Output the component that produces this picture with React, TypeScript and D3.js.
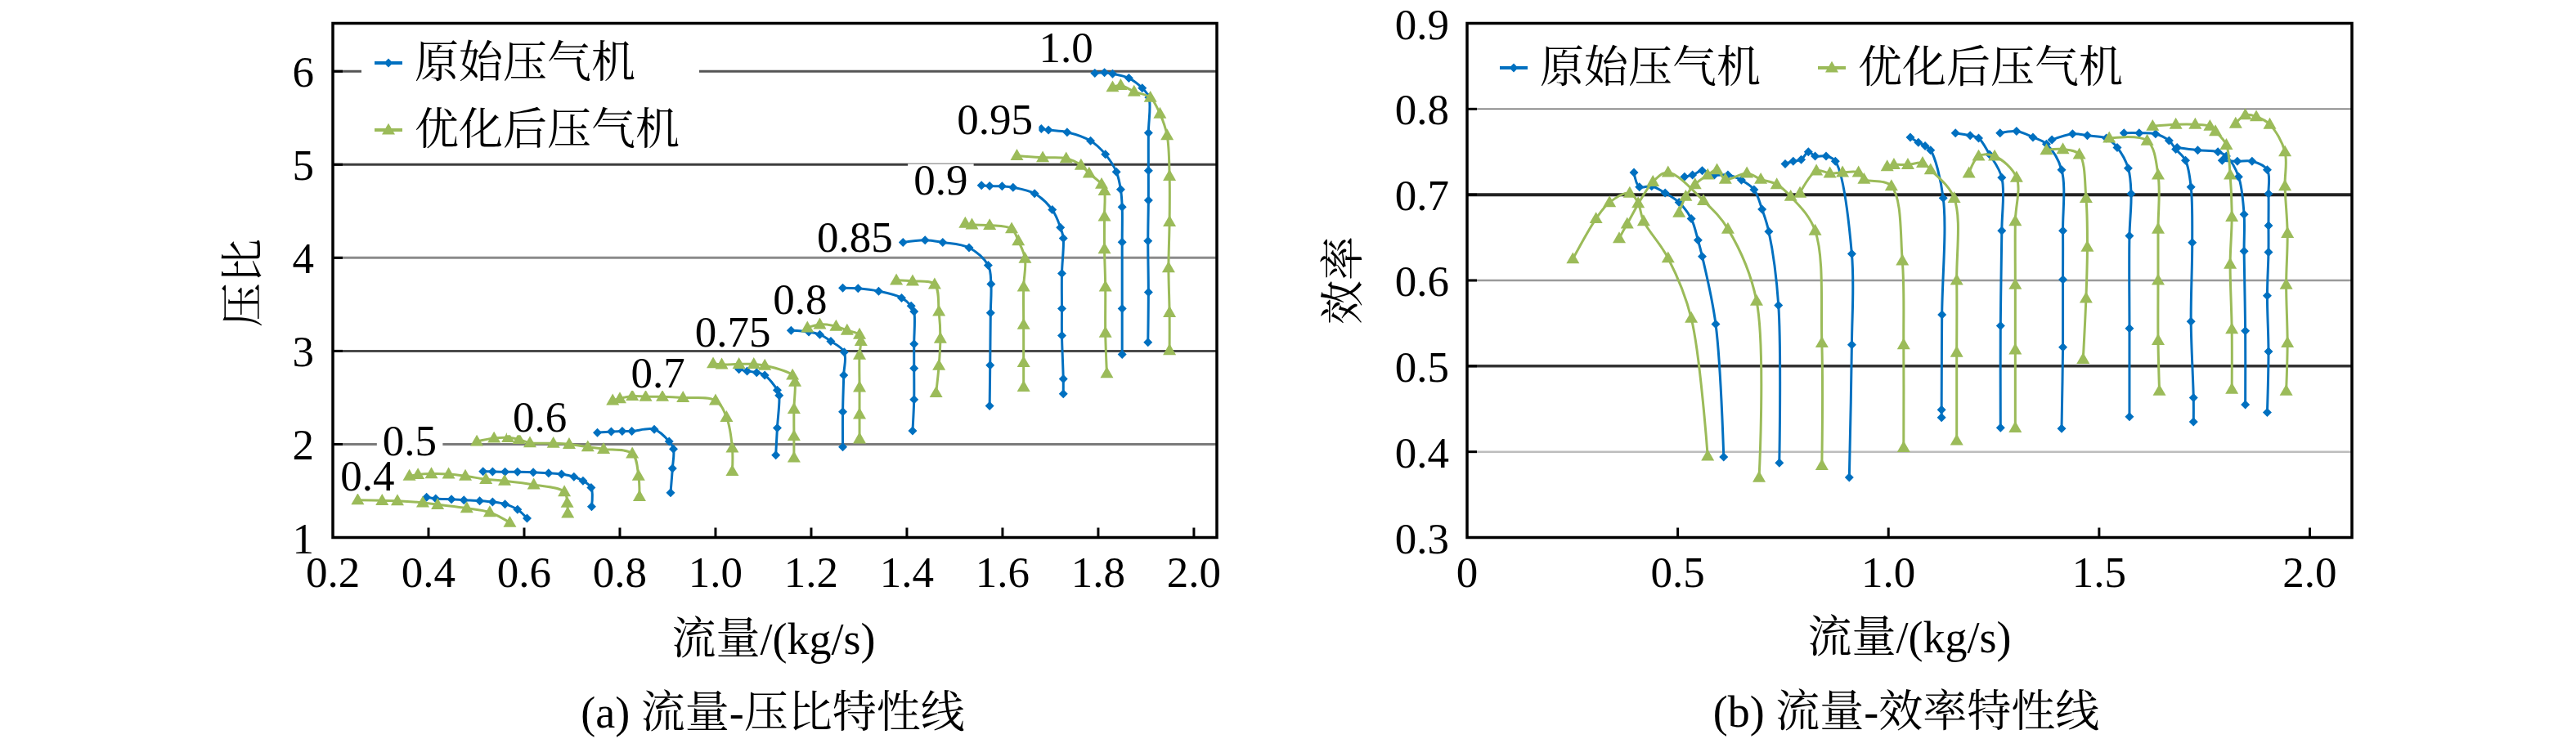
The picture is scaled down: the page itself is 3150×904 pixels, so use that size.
import { useEffect } from "react";
import * as d3 from "d3";

// ---- data ----
// (a) flow vs pressure ratio, original compressor (blue), one array per speed line
const prOrig0 = [[0.396, 1.431], [0.415, 1.416], [0.448, 1.41], [0.474, 1.402], [0.507, 1.393], [0.534, 1.381], [0.56, 1.358], [0.586, 1.3], [0.606, 1.205]];
const prOrig1 = [[0.514, 1.709], [0.534, 1.706], [0.56, 1.703], [0.586, 1.703], [0.619, 1.7], [0.651, 1.691], [0.678, 1.68], [0.704, 1.651], [0.723, 1.607], [0.74, 1.534], [0.741, 1.33]];
const prOrig2 = [[0.753, 2.125], [0.782, 2.135], [0.805, 2.14], [0.825, 2.14], [0.872, 2.16], [0.903, 2.03], [0.912, 1.95], [0.91, 1.74], [0.906, 1.48]];
const prOrig3 = [[1.049, 2.805], [1.066, 2.785], [1.086, 2.77], [1.103, 2.741], [1.129, 2.581], [1.133, 2.523], [1.129, 2.174], [1.126, 1.884]];
const prOrig4 = [[1.158, 3.221], [1.195, 3.206], [1.218, 3.177], [1.241, 3.105], [1.269, 2.988], [1.268, 2.741], [1.266, 2.349], [1.266, 1.971]];
const prOrig5 = [[1.266, 3.677], [1.298, 3.672], [1.341, 3.642], [1.389, 3.57], [1.409, 3.483], [1.415, 3.424], [1.415, 3.076], [1.415, 2.814], [1.415, 2.48], [1.412, 2.145]];
const prOrig6 = [[1.392, 4.166], [1.438, 4.19], [1.475, 4.166], [1.53, 4.108], [1.57, 3.92], [1.576, 3.717], [1.575, 3.41], [1.574, 2.847], [1.573, 2.411]];
const prOrig7 = [[1.556, 4.776], [1.573, 4.77], [1.599, 4.767], [1.622, 4.755], [1.667, 4.689], [1.704, 4.515], [1.721, 4.326], [1.727, 4.21], [1.724, 3.833], [1.724, 3.456], [1.724, 3.166], [1.727, 2.701], [1.727, 2.542]];
const prOrig8 = [[1.681, 5.385], [1.696, 5.37], [1.735, 5.347], [1.784, 5.254], [1.815, 5.109], [1.838, 4.921], [1.847, 4.732], [1.85, 4.544], [1.85, 4.167], [1.85, 3.456], [1.85, 2.963]];
const prOrig9 = [[1.793, 5.98], [1.813, 5.986], [1.83, 5.974], [1.864, 5.927], [1.892, 5.82], [1.906, 5.719], [1.905, 5.341], [1.905, 4.935], [1.905, 4.616], [1.904, 4.181], [1.905, 3.63], [1.904, 3.093]];

// (a) optimised compressor (green)
const prOpt0 = [[0.252, 1.402], [0.303, 1.396], [0.335, 1.393], [0.388, 1.373], [0.419, 1.352], [0.48, 1.314], [0.528, 1.27], [0.57, 1.16]];
const prOpt1 = [[0.36, 1.66], [0.378, 1.675], [0.406, 1.683], [0.442, 1.68], [0.477, 1.66], [0.52, 1.624], [0.559, 1.607], [0.62, 1.566], [0.684, 1.49], [0.69, 1.37], [0.691, 1.26]];
const prOpt2 = [[0.501, 2.03], [0.537, 2.065], [0.566, 2.071], [0.589, 2.053], [0.612, 2.015], [0.661, 2.01], [0.694, 2.0], [0.733, 1.971], [0.766, 1.948], [0.826, 1.9], [0.839, 1.66], [0.841, 1.44]];
const prOpt3 = [[0.785, 2.47], [0.8, 2.49], [0.826, 2.517], [0.854, 2.51], [0.889, 2.51], [0.932, 2.5], [1.0, 2.47], [1.023, 2.29], [1.035, 1.96], [1.035, 1.71]];
const prOpt4 = [[0.995, 2.865], [1.013, 2.855], [1.049, 2.86], [1.08, 2.86], [1.103, 2.845], [1.161, 2.74], [1.166, 2.669], [1.164, 2.378], [1.164, 2.087], [1.164, 1.855]];
const prOpt5 = [[1.192, 3.25], [1.218, 3.285], [1.252, 3.265], [1.275, 3.221], [1.301, 3.177], [1.304, 3.105], [1.301, 2.959], [1.301, 2.61], [1.301, 2.32], [1.301, 2.058]];
const prOpt6 = [[1.378, 3.759], [1.412, 3.75], [1.458, 3.715], [1.467, 3.424], [1.47, 3.134], [1.467, 2.843], [1.461, 2.552]];
const prOpt7 = [[1.522, 4.37], [1.536, 4.355], [1.573, 4.349], [1.619, 4.312], [1.633, 4.181], [1.647, 3.992], [1.644, 3.688], [1.644, 3.282], [1.644, 2.876], [1.644, 2.614]];
const prOpt8 = [[1.63, 5.095], [1.684, 5.075], [1.733, 5.066], [1.764, 4.993], [1.781, 4.906], [1.807, 4.79], [1.813, 4.718], [1.813, 4.442], [1.813, 4.094], [1.815, 3.688], [1.815, 3.195], [1.818, 2.76]];
const prOpt9 = [[1.83, 5.829], [1.847, 5.849], [1.875, 5.782], [1.909, 5.719], [1.929, 5.545], [1.944, 5.312], [1.949, 4.877], [1.949, 4.384], [1.947, 3.891], [1.949, 3.412], [1.949, 3.006]];

// (b) flow vs efficiency, original compressor (blue)
const effOrig0 = [[0.396, 0.726], [0.409, 0.709], [0.438, 0.71], [0.47, 0.702], [0.503, 0.691], [0.532, 0.672], [0.548, 0.647], [0.558, 0.628], [0.59, 0.549], [0.609, 0.394]];
const effOrig1 = [[0.516, 0.721], [0.535, 0.723], [0.558, 0.728], [0.587, 0.723], [0.619, 0.723], [0.651, 0.717], [0.681, 0.706], [0.7, 0.683], [0.716, 0.657], [0.739, 0.571], [0.741, 0.387]];
const effOrig2 = [[0.755, 0.736], [0.774, 0.739], [0.793, 0.741], [0.81, 0.75], [0.826, 0.745], [0.852, 0.745], [0.874, 0.739], [0.913, 0.631], [0.913, 0.525], [0.907, 0.37]];
const effOrig3 = [[1.052, 0.767], [1.071, 0.761], [1.087, 0.757], [1.1, 0.752], [1.13, 0.696], [1.127, 0.56], [1.126, 0.449], [1.126, 0.44]];
const effOrig4 = [[1.159, 0.772], [1.194, 0.769], [1.214, 0.766], [1.24, 0.747], [1.269, 0.72], [1.269, 0.658], [1.266, 0.547], [1.266, 0.428]];
const effOrig5 = [[1.265, 0.772], [1.304, 0.774], [1.343, 0.767], [1.375, 0.759], [1.411, 0.729], [1.414, 0.658], [1.414, 0.601], [1.414, 0.522], [1.411, 0.427]];
const effOrig6 = [[1.388, 0.764], [1.437, 0.771], [1.472, 0.769], [1.517, 0.766], [1.543, 0.755], [1.569, 0.731], [1.576, 0.701], [1.572, 0.652], [1.572, 0.544], [1.572, 0.441]];
const effOrig7 = [[1.559, 0.772], [1.595, 0.772], [1.634, 0.771], [1.666, 0.763], [1.682, 0.753], [1.705, 0.74], [1.718, 0.709], [1.721, 0.644], [1.718, 0.552], [1.724, 0.463], [1.724, 0.435]];
const effOrig8 = [[1.685, 0.755], [1.734, 0.752], [1.782, 0.75], [1.802, 0.745], [1.831, 0.721], [1.844, 0.677], [1.844, 0.634], [1.847, 0.541], [1.847, 0.455]];
const effOrig9 = [[1.792, 0.74], [1.828, 0.739], [1.863, 0.739], [1.899, 0.729], [1.902, 0.701], [1.902, 0.664], [1.902, 0.633], [1.899, 0.582], [1.902, 0.517], [1.899, 0.446]];

// (b) optimised compressor (green)
const effOpt0 = [[0.251, 0.625], [0.306, 0.672], [0.338, 0.691], [0.386, 0.702], [0.406, 0.69], [0.419, 0.669], [0.477, 0.626], [0.532, 0.556], [0.571, 0.395]];
const effOpt1 = [[0.361, 0.649], [0.38, 0.666], [0.441, 0.715], [0.477, 0.726], [0.561, 0.693], [0.619, 0.66], [0.687, 0.576], [0.693, 0.37]];
const effOpt2 = [[0.503, 0.679], [0.519, 0.698], [0.541, 0.712], [0.571, 0.723], [0.593, 0.729], [0.613, 0.718], [0.664, 0.725], [0.697, 0.718], [0.735, 0.712], [0.768, 0.698], [0.826, 0.658], [0.842, 0.527], [0.842, 0.384]];
const effOpt3 = [[0.79, 0.702], [0.829, 0.728], [0.861, 0.725], [0.891, 0.726], [0.929, 0.726], [0.942, 0.718], [1.007, 0.71], [1.033, 0.623], [1.036, 0.525], [1.036, 0.405]];
const effOpt4 = [[0.997, 0.733], [1.013, 0.735], [1.046, 0.735], [1.081, 0.737], [1.1, 0.729], [1.156, 0.696], [1.162, 0.6], [1.162, 0.516], [1.162, 0.413]];
const effOpt5 = [[1.191, 0.725], [1.214, 0.745], [1.252, 0.745], [1.304, 0.72], [1.301, 0.669], [1.301, 0.595], [1.301, 0.519], [1.301, 0.428]];
const effOpt6 = [[1.375, 0.752], [1.414, 0.753], [1.453, 0.747], [1.469, 0.696], [1.472, 0.639], [1.469, 0.579], [1.462, 0.508]];
const effOpt7 = [[1.524, 0.766], [1.614, 0.763], [1.64, 0.723], [1.64, 0.66], [1.64, 0.6], [1.64, 0.53], [1.643, 0.471]];
const effOpt8 = [[1.627, 0.78], [1.682, 0.782], [1.728, 0.782], [1.763, 0.78], [1.776, 0.774], [1.802, 0.758], [1.811, 0.723], [1.815, 0.674], [1.811, 0.619], [1.815, 0.543], [1.815, 0.473]];
const effOpt9 = [[1.824, 0.783], [1.847, 0.793], [1.873, 0.791], [1.905, 0.782], [1.941, 0.75], [1.941, 0.71], [1.947, 0.655], [1.944, 0.595], [1.947, 0.527], [1.944, 0.471]];

const prOrig = [prOrig0, prOrig1, prOrig2, prOrig3, prOrig4, prOrig5, prOrig6, prOrig7, prOrig8, prOrig9];
const prOpt = [prOpt0, prOpt1, prOpt2, prOpt3, prOpt4, prOpt5, prOpt6, prOpt7, prOpt8, prOpt9];
const effOrig = [effOrig0, effOrig1, effOrig2, effOrig3, effOrig4, effOrig5, effOrig6, effOrig7, effOrig8, effOrig9];
const effOpt = [effOpt0, effOpt1, effOpt2, effOpt3, effOpt4, effOpt5, effOpt6, effOpt7, effOpt8, effOpt9];

// speed-line labels in panel (a): text, flow at left edge, pressure ratio at baseline
const speedLabels = ["0.4", "0.5", "0.6", "0.7", "0.75", "0.8", "0.85", "0.9", "0.95", "1.0"];
const speedLabelFlow = [0.216, 0.304, 0.576, 0.823, 0.957, 1.12, 1.212, 1.414, 1.505, 1.676];
const speedLabelPR = [1.504, 1.884, 2.133, 2.61, 3.047, 3.395, 4.064, 4.674, 5.327, 6.096];

const prXTicks = [0.2, 0.4, 0.6, 0.8, 1.0, 1.2, 1.4, 1.6, 1.8, 2.0];
const prYTicks = [1, 2, 3, 4, 5, 6];
const effXTicks = [0, 0.5, 1.0, 1.5, 2.0];
const effYTicks = [0.3, 0.4, 0.5, 0.6, 0.7, 0.8, 0.9];

const seriesNames = ["原始压气机", "优化后压气机"];

const BLUE = "#0070C0";
const GREEN = "#9BBB59";
const FONT = "'Liberation Serif', 'DejaVu Serif', 'Noto Serif CJK SC', 'Noto Sans CJK SC', serif";

// gridline looks differ line by line in the scan
const prGridStyle: Record<number, [string, number]> = {
  2: ["#7a7a7a", 3],
  3: ["#4a4a4a", 3],
  4: ["#8a8a8a", 3],
  5: ["#3c3c3c", 3],
  6: ["#555555", 3],
};
const effGridStyle: Record<string, [string, number]> = {
  "0.4": ["#bdbdbd", 2.5],
  "0.5": ["#333333", 3.5],
  "0.6": ["#9a9a9a", 2.5],
  "0.7": ["#222222", 4],
  "0.8": ["#6a6a6a", 1.5],
};

type Pt = number[];

function diamondPath(cx: number, cy: number, r: number) {
  return `M${cx},${cy - r}L${cx + r},${cy}L${cx},${cy + r}L${cx - r},${cy}Z`;
}

function trianglePath(cx: number, cy: number, s: number) {
  const h = s * 0.87;
  return `M${cx},${cy - h * 0.6}L${cx + s / 2},${cy + h * 0.4}L${cx - s / 2},${cy + h * 0.4}Z`;
}

function Curves({
  sets,
  x,
  y,
  color,
  marker,
}: {
  sets: Pt[][];
  x: d3.ScaleLinear<number, number>;
  y: d3.ScaleLinear<number, number>;
  color: string;
  marker: "diamond" | "triangle";
}) {
  const line = d3
    .line<Pt>()
    .x((d) => x(d[0]))
    .y((d) => y(d[1]))
    .curve(d3.curveCatmullRom.alpha(0.5));
  return (
    <g>
      {sets.map((s, i) => (
        <g key={i}>
          <path d={line(s) || ""} fill="none" stroke={color} strokeWidth={3} />
          {s.map((d, j) => (
            <path
              key={j}
              d={
                marker === "diamond"
                  ? diamondPath(x(d[0]), y(d[1]), 5.5)
                  : trianglePath(x(d[0]), y(d[1]), 16)
              }
              fill={color}
            />
          ))}
        </g>
      ))}
    </g>
  );
}

function LegendItem({
  x,
  y,
  color,
  marker,
  text,
}: {
  x: number;
  y: number;
  color: string;
  marker: "diamond" | "triangle";
  text: string;
}) {
  return (
    <g>
      <line x1={x} x2={x + 34} y1={y} y2={y} stroke={color} strokeWidth={4} />
      <path
        d={marker === "diamond" ? diamondPath(x + 17, y, 5.5) : trianglePath(x + 17, y, 16)}
        fill={color}
      />
      <text x={x + 49} y={y} fontSize={54} dominantBaseline="central" style={{ fontFamily: FONT }}>
        {text}
      </text>
    </g>
  );
}

function PressurePanel() {
  const x = d3.scaleLinear().domain([0.2, 2.048]).range([407, 1488]);
  const y = d3.scaleLinear().domain([1, 6.515]).range([657.5, 28.5]);
  const [x0, x1] = x.range();
  const [yb, yt] = y.range();
  return (
    <g style={{ fontFamily: FONT }}>
      {prYTicks
        .filter((v) => v > 1)
        .map((v) => (
          <line key={v} x1={x0} x2={x1} y1={y(v)} y2={y(v)} stroke={prGridStyle[v][0]} strokeWidth={prGridStyle[v][1]} />
        ))}
      {/* legend box hides the gridline behind it */}
      <rect x={442} y={38} width={413} height={158} fill="#fff" />
      <LegendItem x={458} y={77} color={BLUE} marker="diamond" text={seriesNames[0]} />
      <LegendItem x={458} y={159} color={GREEN} marker="triangle" text={seriesNames[1]} />

      <Curves sets={prOrig} x={x} y={y} color={BLUE} marker="diamond" />
      <Curves sets={prOpt} x={x} y={y} color={GREEN} marker="triangle" />

      {speedLabels.map((t, i) => {
        const lx = x(speedLabelFlow[i]);
        const ly = y(speedLabelPR[i]);
        const w = t.length * 26.5 - (t.includes(".") ? 13 : 0);
        return (
          <g key={t}>
            <rect x={lx - 7} y={ly - 38} width={w + 14} height={42} fill="#fff" />
            <text x={lx} y={ly} fontSize={53}>
              {t}
            </text>
          </g>
        );
      })}

      <rect x={x0} y={yt} width={x1 - x0} height={yb - yt} fill="none" stroke="#000" strokeWidth={3.5} />
      {prXTicks
        .filter((v) => v > 0.2)
        .map((v) => (
          <line key={v} x1={x(v)} x2={x(v)} y1={yb} y2={yb - 12} stroke="#000" strokeWidth={3} />
        ))}
      {prYTicks
        .filter((v) => v > 1)
        .map((v) => (
          <line key={v} x1={x0} x2={x0 + 12} y1={y(v)} y2={y(v)} stroke="#000" strokeWidth={3} />
        ))}
      {prXTicks.map((v) => (
        <text key={v} x={x(v)} y={718} fontSize={53} textAnchor="middle">
          {v.toFixed(1)}
        </text>
      ))}
      {prYTicks.map((v) => (
        <text key={v} x={384} y={y(v) + 1} fontSize={53} textAnchor="end" dominantBaseline="central">
          {v}
        </text>
      ))}
      <text
        x={298}
        y={346}
        fontSize={54}
        textAnchor="middle"
        dominantBaseline="central"
        transform="rotate(-90 298 346)"
      >
        压比
      </text>
      <text x={946} y={782} fontSize={54} textAnchor="middle" dominantBaseline="central">
        流量/(kg/s)
      </text>
      <text x={945} y={872} fontSize={54} textAnchor="middle" dominantBaseline="central">
        (a) 流量-压比特性线
      </text>
    </g>
  );
}

function EfficiencyPanel() {
  const x = d3.scaleLinear().domain([0, 2.1]).range([1794, 2876]);
  const y = d3.scaleLinear().domain([0.3, 0.9]).range([657.5, 28.5]);
  const [x0, x1] = x.range();
  const [yb, yt] = y.range();
  const inner = effYTicks.filter((v) => v > 0.3 && v < 0.9);
  return (
    <g style={{ fontFamily: FONT }}>
      {inner.map((v) => {
        const st = effGridStyle[v.toFixed(1)];
        return <line key={v} x1={x0} x2={x1} y1={y(v)} y2={y(v)} stroke={st[0]} strokeWidth={st[1]} />;
      })}
      <LegendItem x={1834} y={83} color={BLUE} marker="diamond" text={seriesNames[0]} />
      <LegendItem x={2223} y={83} color={GREEN} marker="triangle" text={seriesNames[1]} />

      <Curves sets={effOrig} x={x} y={y} color={BLUE} marker="diamond" />
      <Curves sets={effOpt} x={x} y={y} color={GREEN} marker="triangle" />

      <rect x={x0} y={yt} width={x1 - x0} height={yb - yt} fill="none" stroke="#000" strokeWidth={3.5} />
      {effXTicks
        .filter((v) => v > 0)
        .map((v) => (
          <line key={v} x1={x(v)} x2={x(v)} y1={yb} y2={yb - 12} stroke="#000" strokeWidth={3} />
        ))}
      {inner.map((v) => (
        <line key={v} x1={x0} x2={x0 + 12} y1={y(v)} y2={y(v)} stroke="#000" strokeWidth={3} />
      ))}
      {effXTicks.map((v) => (
        <text key={v} x={x(v)} y={718} fontSize={53} textAnchor="middle">
          {v === 0 ? "0" : v.toFixed(1)}
        </text>
      ))}
      {effYTicks.map((v) => (
        <text key={v} x={1772} y={y(v) + 1} fontSize={53} textAnchor="end" dominantBaseline="central">
          {v.toFixed(1)}
        </text>
      ))}
      <text
        x={1643}
        y={343}
        fontSize={54}
        textAnchor="middle"
        dominantBaseline="central"
        transform="rotate(-90 1643 343)"
      >
        效率
      </text>
      <text x={2335} y={780} fontSize={54} textAnchor="middle" dominantBaseline="central">
        流量/(kg/s)
      </text>
      <text x={2331} y={871} fontSize={54} textAnchor="middle" dominantBaseline="central">
        (b) 流量-效率特性线
      </text>
    </g>
  );
}

export default function App() {
  useEffect(() => {
    document.body.style.margin = "0";
  }, []);

  return (
    <svg
      width={3150}
      height={904}
      viewBox="0 0 3150 904"
      style={{ position: "absolute", left: 0, top: 0, background: "#fff" }}
    >
      <rect width={3150} height={904} fill="#fff" />
      <PressurePanel />
      <EfficiencyPanel />
    </svg>
  );
}
